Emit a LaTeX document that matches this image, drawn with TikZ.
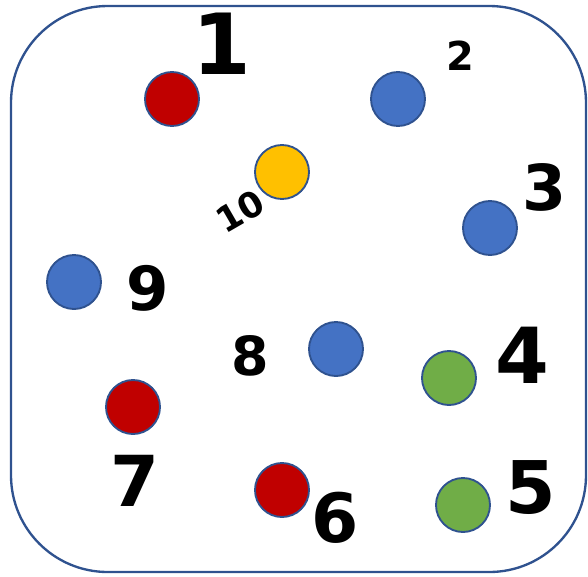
\documentclass[tikz,border=0pt]{standalone}
\usepackage{fontspec}
\setmainfont{DejaVu Sans}
\definecolor{rim}{HTML}{2F528F}
\definecolor{ballred}{HTML}{C00000}
\definecolor{ballblue}{HTML}{4472C4}
\definecolor{ballyellow}{HTML}{FFC000}
\definecolor{ballgreen}{HTML}{70AD47}
\newcommand{\handsize}[1]{\fontsize{#1}{#1}\selectfont\bfseries}
\tikzset{
  ball/.style={circle, draw=rim, line width=1.6pt, minimum size=1.62cm, inner sep=0pt, fill=#1},
  num/.style={inner sep=0pt, font=\handsize{#1}}
}
\begin{document}
\begin{tikzpicture}[x=0.03cm, y=-0.03cm]
  \useasboundingbox (0,0) rectangle (588,576);
  % box
  \draw[rim, line width=2pt, rounded corners=2.9cm] (11,6) rectangle (586,572);
  % balls
  \node[ball=ballred]    (r1)  at (172,99)  {};
  \node[ball=ballblue]   (b2)  at (398,99)  {};
  \node[ball=ballyellow] (y10) at (282,172) {};
  \node[ball=ballblue]   (b3)  at (490,228) {};
  \node[ball=ballblue]   (b9)  at (74,282)  {};
  \node[ball=ballblue]   (b8)  at (336,349) {};
  \node[ball=ballgreen]  (g4)  at (449,378) {};
  \node[ball=ballred]    (r7)  at (133,407) {};
  \node[ball=ballred]    (r6)  at (282,490) {};
  \node[ball=ballgreen]  (g5)  at (463,505) {};
  % numbers
  \node[num=72] (n1)  at (222,44)  {1};
  \node[num=34] (n2)  at (460,56)  {2};
  \node[num=54] (n3)  at (545,187) {3};
  \node[num=30, rotate=30] (n10) at (240,211) {10};
  \node[num=52] (n9)  at (148,288) {9};
  \node[num=46] (n8)  at (250,356) {8};
  \node[num=66] (n4)  at (522,355) {4};
  \node[num=60] (n7)  at (135,481) {7};
  \node[num=58] (n6)  at (335,518) {6};
  \node[num=62] (n5)  at (531,488) {5};
\end{tikzpicture}
\end{document}
